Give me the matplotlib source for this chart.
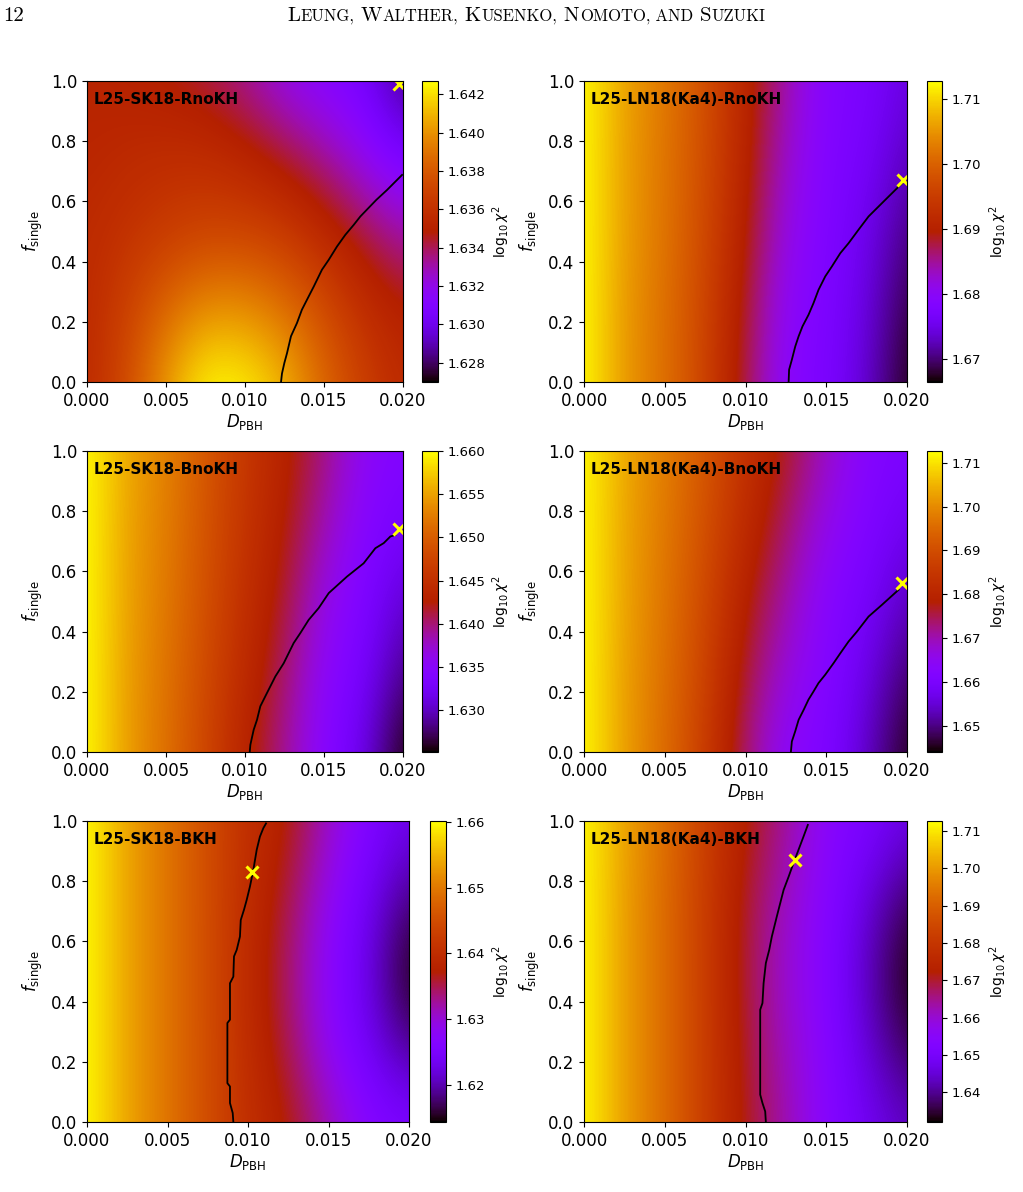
import numpy as np
import matplotlib.pyplot as plt

D_grid = [0.0, 0.0025, 0.005, 0.0075, 0.01, 0.0125, 0.015, 0.0175, 0.02]
f_grid = [0.0, 0.25, 0.5, 0.75, 1.0]

names = ["L25-SK18-RnoKH", "L25-LN18(Ka4)-RnoKH", "L25-SK18-BnoKH",
         "L25-LN18(Ka4)-BnoKH", "L25-SK18-BKH", "L25-LN18(Ka4)-BKH"]

# rows: f_single = 0 ... 1 ; columns: D_PBH = 0 ... 0.02
chi_sk18_rnokh = [
    [1.6356, 1.6374, 1.6403, 1.6427, 1.6425, 1.6411, 1.6386, 1.6369, 1.6356],
    [1.6356, 1.6369, 1.6386, 1.6399, 1.6399, 1.6389, 1.6375, 1.6359, 1.6349],
    [1.6356, 1.6361, 1.6366, 1.6370, 1.6370, 1.6366, 1.6355, 1.6342, 1.6330],
    [1.6353, 1.6356, 1.6358, 1.6358, 1.6353, 1.6344, 1.6333, 1.6319, 1.6305],
    [1.6352, 1.6350, 1.6347, 1.6342, 1.6333, 1.6320, 1.6312, 1.6305, 1.6283],
]
chi_ln18_rnokh = [
    [1.7127, 1.7053, 1.7016, 1.6961, 1.6873, 1.6790, 1.6776, 1.6734, 1.6670],
    [1.7127, 1.7053, 1.7016, 1.6965, 1.6882, 1.6799, 1.6778, 1.6744, 1.6683],
    [1.7127, 1.7058, 1.7021, 1.6970, 1.6896, 1.6813, 1.6780, 1.6753, 1.6702],
    [1.7127, 1.7058, 1.7021, 1.6975, 1.6905, 1.6827, 1.6783, 1.6767, 1.6725],
    [1.7127, 1.7062, 1.7025, 1.6979, 1.6910, 1.6841, 1.6785, 1.6776, 1.6744],
]
chi_sk18_bnokh = [
    [1.6600, 1.6548, 1.6516, 1.6478, 1.6433, 1.6391, 1.6346, 1.6315, 1.6252],
    [1.6600, 1.6548, 1.6520, 1.6482, 1.6443, 1.6402, 1.6353, 1.6329, 1.6280],
    [1.6600, 1.6551, 1.6523, 1.6489, 1.6450, 1.6416, 1.6363, 1.6339, 1.6304],
    [1.6600, 1.6551, 1.6527, 1.6492, 1.6457, 1.6426, 1.6384, 1.6346, 1.6329],
    [1.6600, 1.6555, 1.6530, 1.6496, 1.6461, 1.6433, 1.6398, 1.6356, 1.6342],
]
chi_ln18_bnokh = [
    [1.7127, 1.7024, 1.6955, 1.6866, 1.6729, 1.6632, 1.6612, 1.6536, 1.6447],
    [1.7127, 1.7024, 1.6962, 1.6880, 1.6756, 1.6667, 1.6619, 1.6564, 1.6481],
    [1.7127, 1.7031, 1.6969, 1.6893, 1.6784, 1.6701, 1.6625, 1.6591, 1.6529],
    [1.7127, 1.7031, 1.6976, 1.6907, 1.6818, 1.6735, 1.6653, 1.6612, 1.6571],
    [1.7127, 1.7038, 1.6983, 1.6921, 1.6838, 1.6770, 1.6687, 1.6625, 1.6605],
]
chi_sk18_bkh = [
    [1.6601, 1.6537, 1.6496, 1.6450, 1.6404, 1.6373, 1.6318, 1.6267, 1.6254],
    [1.6601, 1.6537, 1.6496, 1.6450, 1.6400, 1.6350, 1.6281, 1.6235, 1.6185],
    [1.6601, 1.6537, 1.6496, 1.6450, 1.6395, 1.6341, 1.6272, 1.6222, 1.6144],
    [1.6601, 1.6537, 1.6496, 1.6450, 1.6400, 1.6354, 1.6286, 1.6235, 1.6181],
    [1.6601, 1.6537, 1.6496, 1.6450, 1.6404, 1.6373, 1.6309, 1.6258, 1.6231],
]
chi_ln18_bkh = [
    [1.7126, 1.7005, 1.6925, 1.6820, 1.6707, 1.6627, 1.6538, 1.6482, 1.6434],
    [1.7126, 1.7005, 1.6925, 1.6820, 1.6699, 1.6611, 1.6538, 1.6450, 1.6361],
    [1.7126, 1.7005, 1.6925, 1.6820, 1.6691, 1.6595, 1.6530, 1.6426, 1.6321],
    [1.7126, 1.7005, 1.6925, 1.6820, 1.6699, 1.6611, 1.6538, 1.6458, 1.6369],
    [1.7126, 1.7013, 1.6933, 1.6828, 1.6724, 1.6643, 1.6546, 1.6514, 1.6466],
]

# black confidence contour (D_PBH, f_single)
cD_sk18_rnokh = [0.01228, 0.01234, 0.01249, 0.01266, 0.01291, 0.01329, 0.0136, 0.01392, 0.01435,
                 0.01487, 0.0153, 0.01582, 0.01635, 0.01688, 0.0173, 0.01831, 0.01899, 0.01994]
cf_sk18_rnokh = [0.0, 0.028, 0.063, 0.096, 0.152, 0.196, 0.24, 0.273, 0.317,
                 0.373, 0.406, 0.45, 0.489, 0.522, 0.55, 0.605, 0.638, 0.688]
cD_ln18_rnokh = [0.01267, 0.0127, 0.01287, 0.01308, 0.01329, 0.01353, 0.0139, 0.01421, 0.01452,
                 0.01494, 0.01535, 0.01587, 0.01638, 0.017, 0.01762, 0.01824, 0.01886, 0.01969]
cf_ln18_rnokh = [0.0, 0.041, 0.074, 0.118, 0.152, 0.185, 0.223, 0.262, 0.306,
                 0.351, 0.384, 0.428, 0.461, 0.506, 0.55, 0.583, 0.616, 0.66]
cD_sk18_bnokh = [0.0103, 0.01034, 0.01055, 0.01076, 0.01097, 0.01139, 0.01192, 0.01245, 0.01308,
                 0.0135, 0.01403, 0.01466, 0.0153, 0.01646, 0.01751, 0.01825, 0.01878, 0.0192, 0.01951]
cf_sk18_bnokh = [0.0, 0.024, 0.074, 0.107, 0.152, 0.196, 0.251, 0.295, 0.362,
                 0.395, 0.439, 0.478, 0.528, 0.583, 0.627, 0.677, 0.694, 0.716, 0.721]
cD_ln18_bnokh = [0.01281, 0.01287, 0.01308, 0.01329, 0.0136, 0.0139, 0.01421, 0.01452,
                 0.01494, 0.01545, 0.01587, 0.01638, 0.0169, 0.01762, 0.01845, 0.01948]
cf_ln18_bnokh = [0.0, 0.035, 0.069, 0.107, 0.14, 0.174, 0.201, 0.229,
                 0.257, 0.295, 0.328, 0.367, 0.4, 0.45, 0.489, 0.539]
cD_sk18_bkh = [0.00909, 0.00905, 0.00888, 0.00888, 0.00872, 0.00872, 0.00888, 0.00888, 0.00909, 0.00913,
               0.0093, 0.0095, 0.00955, 0.00975, 0.00992, 0.01012, 0.01033, 0.01054, 0.01074, 0.01095, 0.01112]
cf_sk18_bkh = [0.0, 0.03, 0.063, 0.118, 0.129, 0.329, 0.34, 0.461, 0.483, 0.55,
               0.572, 0.616, 0.671, 0.705, 0.738, 0.782, 0.837, 0.904, 0.948, 0.976, 0.992]
cD_ln18_bkh = [0.01126, 0.01122, 0.01105, 0.01091, 0.01091, 0.01105, 0.01112, 0.01126, 0.01147,
               0.01163, 0.01194, 0.01215, 0.01236, 0.01267, 0.01297, 0.01328, 0.01359, 0.01386]
cf_ln18_bkh = [0.0, 0.035, 0.063, 0.091, 0.373, 0.395, 0.461, 0.528, 0.572,
               0.616, 0.683, 0.727, 0.771, 0.815, 0.86, 0.904, 0.948, 0.987]

# best fit (yellow cross)
best_D = [0.01973, 0.01973, 0.01973, 0.01969, 0.01023, 0.01304]
best_f = [0.99, 0.671, 0.74, 0.561, 0.832, 0.871]

# colour bar ranges and ticks
cb_lo = [1.6270, 1.6665, 1.6252, 1.6440, 1.6144, 1.6321]
cb_hi = [1.6427, 1.7127, 1.6600, 1.7127, 1.6601, 1.7126]
cb_ticks = [[1.628, 1.630, 1.632, 1.634, 1.636, 1.638, 1.640, 1.642],
            [1.67, 1.68, 1.69, 1.70, 1.71],
            [1.630, 1.635, 1.640, 1.645, 1.650, 1.655, 1.660],
            [1.65, 1.66, 1.67, 1.68, 1.69, 1.70, 1.71],
            [1.62, 1.63, 1.64, 1.65, 1.66],
            [1.64, 1.65, 1.66, 1.67, 1.68, 1.69, 1.70, 1.71]]
cb_fmt = ["%.3f", "%.2f", "%.3f", "%.2f", "%.2f", "%.2f"]

maps = [chi_sk18_rnokh, chi_ln18_rnokh, chi_sk18_bnokh, chi_ln18_bnokh, chi_sk18_bkh, chi_ln18_bkh]
cont_D = [cD_sk18_rnokh, cD_ln18_rnokh, cD_sk18_bnokh, cD_ln18_bnokh, cD_sk18_bkh, cD_ln18_bkh]
cont_f = [cf_sk18_rnokh, cf_ln18_rnokh, cf_sk18_bnokh, cf_ln18_bnokh, cf_sk18_bkh, cf_ln18_bkh]

# --- page layout in pixels ---
W, H = 1023, 1192
fig = plt.figure(figsize=(W / 100, H / 100), dpi=100)

def rect(x0, x1, ytop, ybot):
    return [x0 / W, 1 - ybot / H, (x1 - x0) / W, (ybot - ytop) / H]

ax_px = [(87, 403, 81, 382), (584, 907, 81, 382),
         (87, 403, 451, 752), (584, 907, 451, 752),
         (87, 409, 821, 1122), (584, 907, 821, 1122)]
cb_px = [(422, 437.5), (927, 942), (422, 437.5), (927, 942), (430, 445.5), (927, 942)]

dD = D_grid[1] - D_grid[0]
df = f_grid[1] - f_grid[0]
ext = [D_grid[0] - dD / 2, D_grid[-1] + dD / 2, f_grid[0] - df / 2, f_grid[-1] + df / 2]

for i in range(6):
    x0, x1, yt, yb = ax_px[i]
    ax = fig.add_axes(rect(x0, x1, yt, yb))
    cax = fig.add_axes(rect(cb_px[i][0], cb_px[i][1], yt, yb))

    im = ax.imshow(np.array(maps[i]), origin="lower", extent=ext, aspect="auto",
                   cmap="gnuplot", vmin=cb_lo[i], vmax=cb_hi[i],
                   interpolation="bicubic", interpolation_stage="data")
    ax.plot(cont_D[i], cont_f[i], color="k", lw=1.3)
    ax.plot(best_D[i], best_f[i], "x", color="yellow", ms=9, mew=2.2)

    ax.set_xlim(0, 0.02)
    ax.set_ylim(0, 1)
    ax.set_xticks([0.0, 0.005, 0.01, 0.015, 0.02])
    ax.set_xticklabels(["0.000", "0.005", "0.010", "0.015", "0.020"])
    ax.set_yticks([0.0, 0.2, 0.4, 0.6, 0.8, 1.0])
    ax.set_yticklabels(["0.0", "0.2", "0.4", "0.6", "0.8", "1.0"])
    ax.tick_params(labelsize=12)
    ax.set_xlabel(r"$D_{\rm PBH}$", fontsize=12, labelpad=2)
    ax.set_ylabel(r"$f_{\rm single}$", fontsize=12)
    ax.text(0.02, 0.94, names[i], transform=ax.transAxes, fontsize=11,
            fontweight="bold", va="center", ha="left")

    cb = fig.colorbar(im, cax=cax, ticks=cb_ticks[i], format=cb_fmt[i])
    cb.ax.tick_params(labelsize=9.5)
    cb.set_label(r"$\log_{10}\chi^2$", fontsize=10)

# --- running head (small caps) ---
fig.text(3.5 / W, 1 - 21 / H, "12", fontsize=15, family="cmr10", va="baseline")
pieces = [("L", 15), ("EUNG,", 12), (" W", 15), ("ALTHER,", 12), (" K", 15),
          ("USENKO,", 12), (" N", 15), ("OMOTO,", 12), (" AND", 12),
          (" S", 15), ("UZUKI", 12)]
rend = fig.canvas.get_renderer()
xpos = 287
for s, size in pieces:
    t = fig.text(xpos / W, 1 - 21 / H, s, fontsize=size, family="cmr10", va="baseline")
    xpos += t.get_window_extent(rend).width

fig.savefig("out.png", dpi=100)
